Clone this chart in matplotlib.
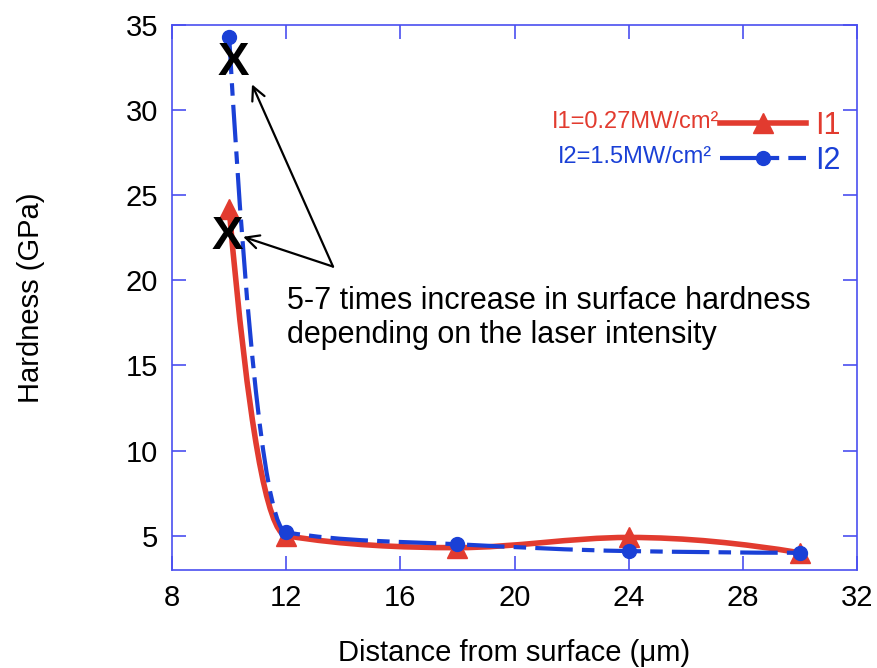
import numpy as np
import matplotlib.pyplot as plt
from matplotlib.path import Path
from matplotlib.patches import PathPatch
from matplotlib.lines import Line2D

# values
depth = [10, 12, 18, 24, 30]
hardness_i1 = [24.2, 5.0, 4.3, 4.9, 4.0]
hardness_i2 = [34.3, 5.2, 4.5, 4.1, 4.0]

x_ticks = [8, 12, 16, 20, 24, 28, 32]
y_ticks = [5, 10, 15, 20, 25, 30, 35]

RED = "#e23b2f"
BLUE = "#1a40d6"
AXIS_BLUE = "#4a4ff0"
BLUE_DASH = (0, (9, 2.2, 3, 2.2))

plt.rcParams["font.family"] = ["Liberation Sans", "DejaVu Sans"]


def curve_slopes(x, y):
    # shape preserving slopes, steeper start like the smoothed original
    h = np.diff(x)
    d = np.diff(y) / h
    m = np.zeros(len(x))
    for k in range(1, len(x) - 1):
        if d[k - 1] * d[k] > 0:
            w1 = 2 * h[k] + h[k - 1]
            w2 = h[k] + 2 * h[k - 1]
            m[k] = (w1 + w2) / (w1 / d[k - 1] + w2 / d[k])
    m[0] = 2 * d[0]
    m[-1] = ((2 * h[-1] + h[-2]) * d[-1] - h[-1] * d[-2]) / (h[-1] + h[-2])
    if m[-1] * d[-1] <= 0:
        m[-1] = 0
    return m


def smooth_path(x, y):
    x = np.asarray(x, float)
    y = np.asarray(y, float)
    m = curve_slopes(x, y)
    verts = [(x[0], y[0])]
    codes = [Path.MOVETO]
    for i in range(len(x) - 1):
        h = x[i + 1] - x[i]
        verts.append((x[i] + h / 3, y[i] + m[i] * h / 3))
        verts.append((x[i + 1] - h / 3, y[i + 1] - m[i + 1] * h / 3))
        verts.append((x[i + 1], y[i + 1]))
        codes += [Path.CURVE4] * 3
    return Path(verts, codes)


fig = plt.figure(figsize=(8.78, 6.68), dpi=100)
ax = fig.add_axes([0.196, 0.147, 0.780, 0.816])

ax.add_patch(PathPatch(smooth_path(depth, hardness_i1), fill=False,
                       edgecolor=RED, linewidth=4, capstyle="round"))
ax.add_patch(PathPatch(smooth_path(depth, hardness_i2), fill=False,
                       edgecolor=BLUE, linewidth=3, linestyle=BLUE_DASH,
                       capstyle="butt"))

ax.plot(depth, hardness_i1, linestyle="none", marker="^", markersize=15,
        color=RED)
ax.plot(depth, hardness_i2, linestyle="none", marker="o", markersize=10,
        color=BLUE)

# the two X marks on the surface values
ax.text(10.14, 32.75, "X", fontsize=34, fontweight="bold", ha="center",
        va="center")
ax.text(9.93, 22.55, "X", fontsize=34, fontweight="bold", ha="center",
        va="center")

arrow = dict(arrowstyle="->", color="black", lw=1.6, mutation_scale=24,
             shrinkA=0, shrinkB=0)
ax.annotate("", xy=(10.8, 31.5), xytext=(13.64, 20.8), arrowprops=arrow)
ax.annotate("", xy=(10.49, 22.55), xytext=(13.64, 20.8), arrowprops=arrow)

ax.text(12.03, 19.65,
        "5-7 times increase in surface hardness\n"
        "depending on the laser intensity",
        fontsize=22, ha="left", va="top", linespacing=1.15)

handles = [
    Line2D([], [], color=RED, lw=4, marker="^", markersize=15),
    Line2D([], [], color=BLUE, lw=3, linestyle=BLUE_DASH, marker="o",
           markersize=10),
]
leg = ax.legend(handles, ["I1", "I2"], loc="upper right",
                bbox_to_anchor=(0.994, 0.864), frameon=False, fontsize=22,
                handlelength=2.8, handletextpad=0.3, labelspacing=0.15,
                borderaxespad=0)
leg.get_texts()[0].set_color(RED)
leg.get_texts()[1].set_color(BLUE)

ax.text(0.7985, 0.822, "I1=0.27MW/cm²", transform=ax.transAxes,
        fontsize=17, color=RED, ha="right", va="center")
ax.text(0.789, 0.758, "I2=1.5MW/cm²", transform=ax.transAxes,
        fontsize=17, color=BLUE, ha="right", va="center")

ax.set_xlim(8, 32)
ax.set_ylim(3, 35)
ax.set_xticks(x_ticks)
ax.set_yticks(y_ticks)
ax.tick_params(direction="in", length=10, width=1.2, color=AXIS_BLUE,
               labelsize=21, top=True, right=True, pad=10)
for spine in ax.spines.values():
    spine.set_color(AXIS_BLUE)
    spine.set_linewidth(1.2)

ax.set_xlabel("Distance from surface (μm)", fontsize=21, labelpad=20)
ax.set_ylabel("Hardness (GPa)", fontsize=21, labelpad=58)

fig.savefig("out.png", dpi=100)
